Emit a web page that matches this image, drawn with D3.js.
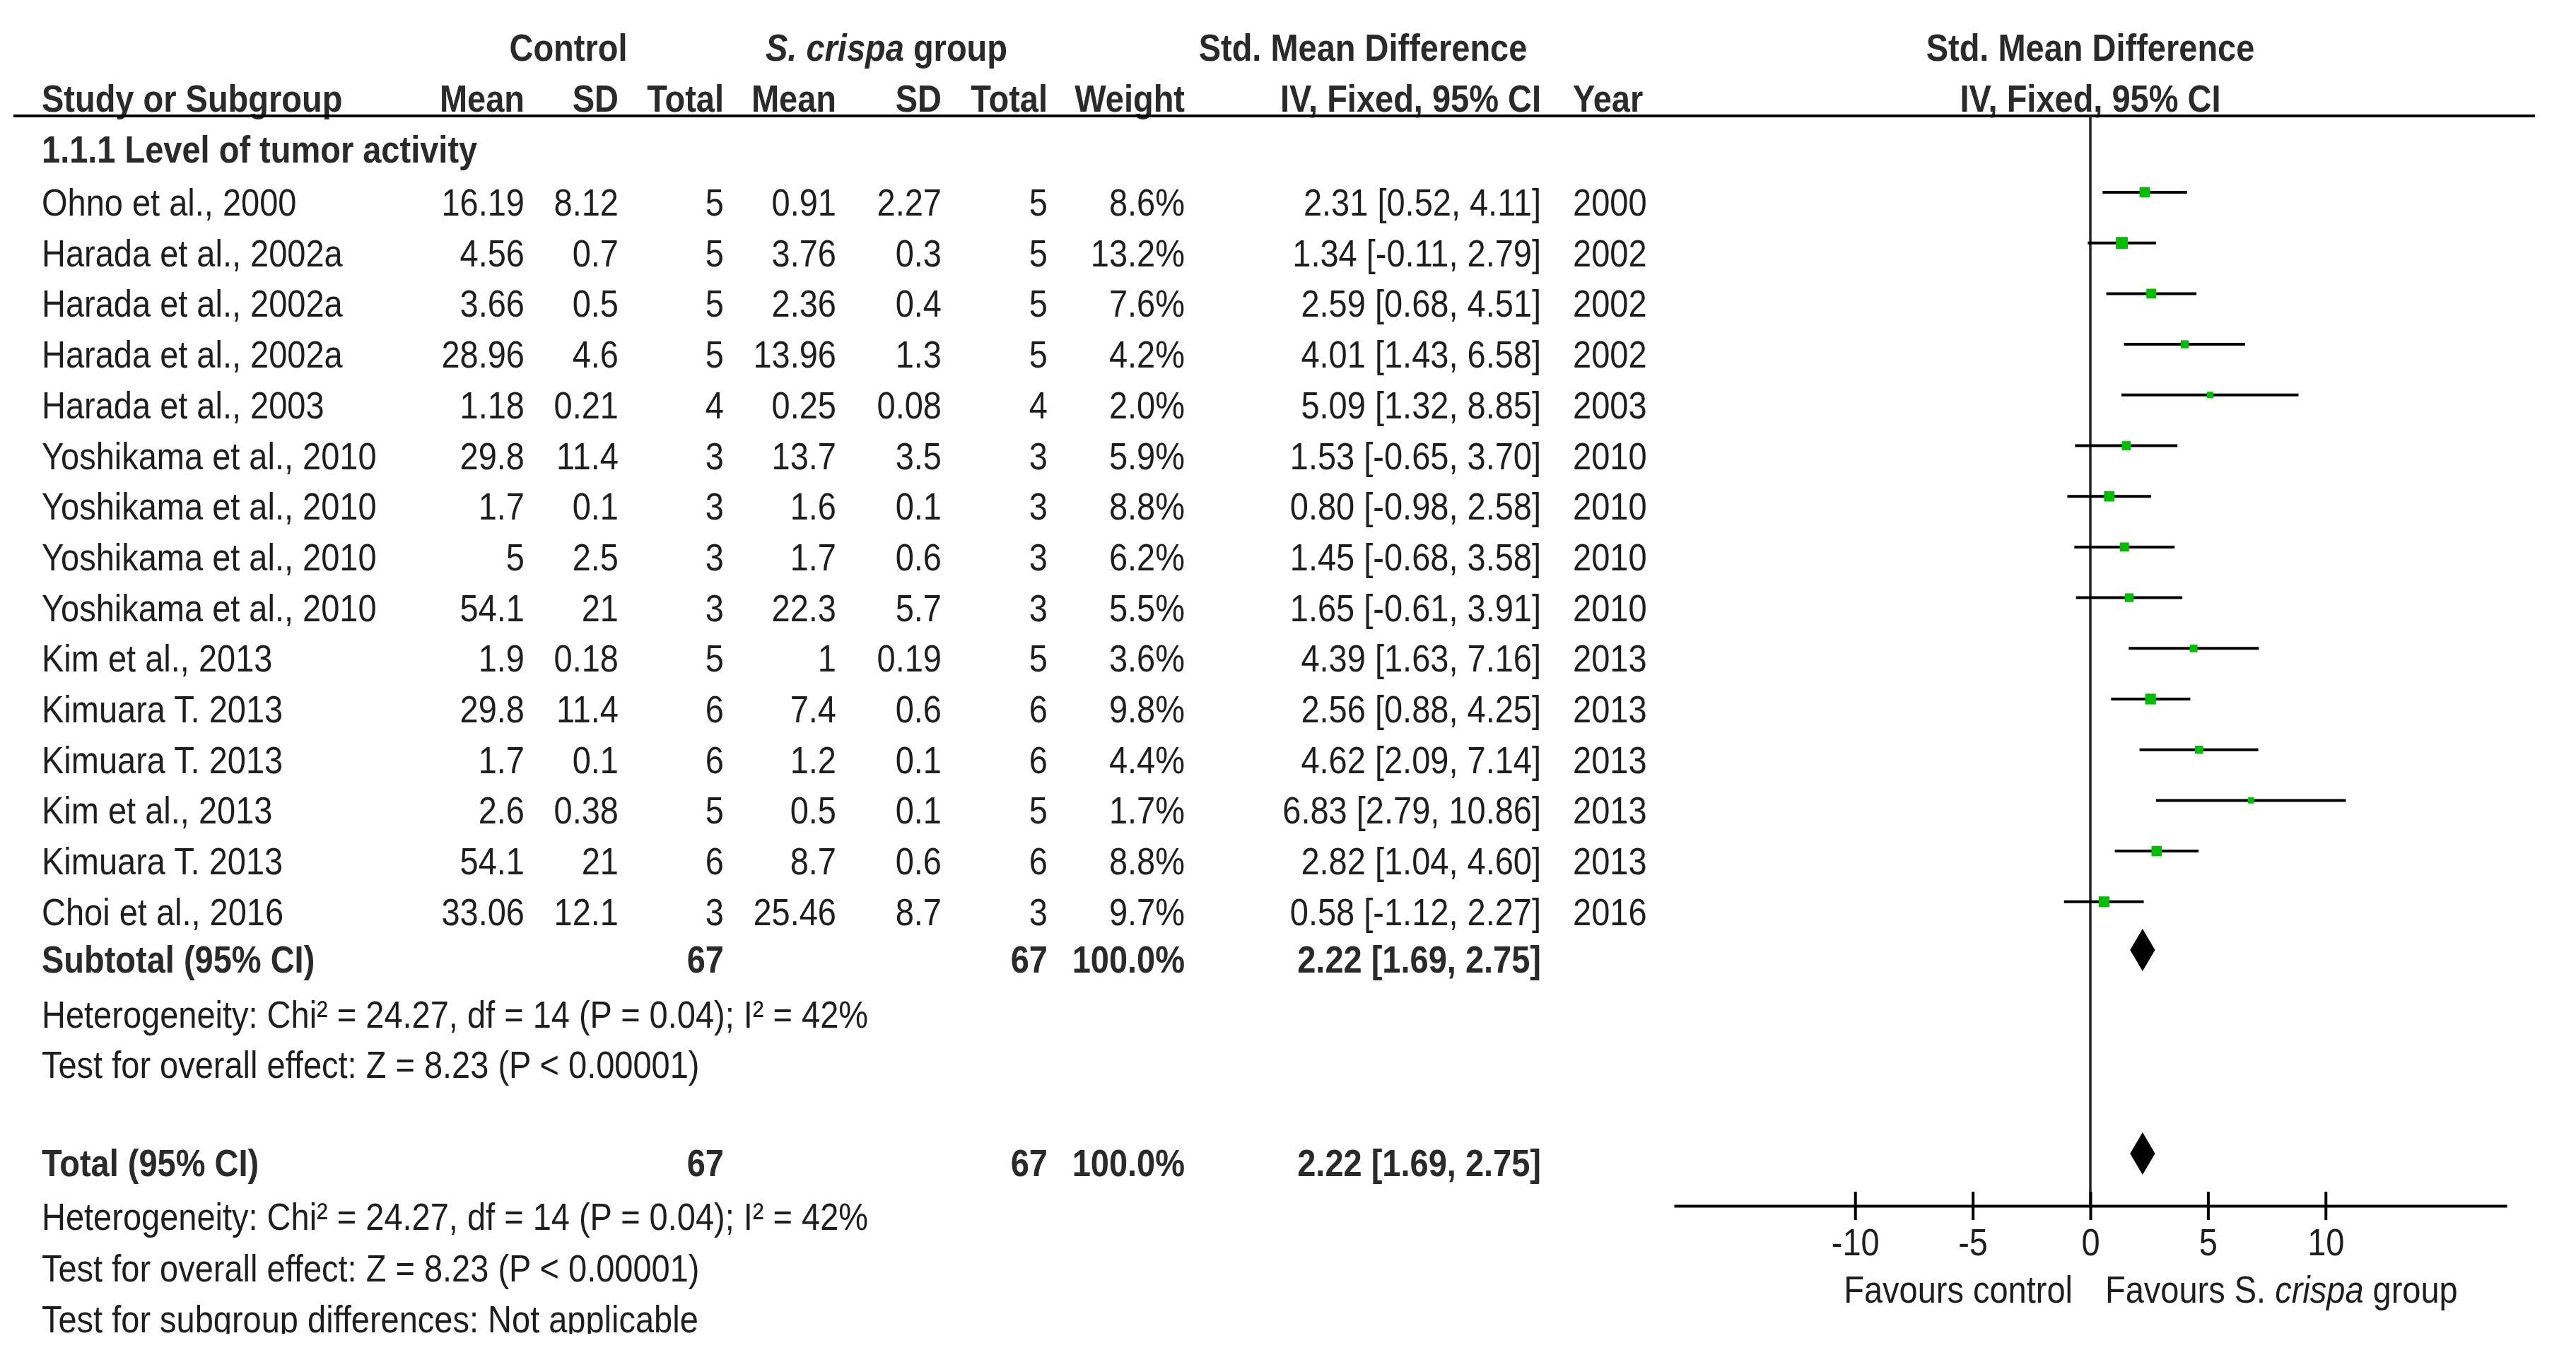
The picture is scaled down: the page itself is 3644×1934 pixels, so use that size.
<!DOCTYPE html>
<html>
<head>
<meta charset="utf-8">
<script src="https://cdn.jsdelivr.net/npm/d3@7"></script>
<style>
body { margin: 0; background: #fff; }
text { font-family: "Liberation Sans", Arial, sans-serif; font-size: 54px; fill: #1e1e1e; }
.b { font-weight: bold; fill: #2a2a2a; }
</style>
</head>
<body>
<svg id="chart" width="3644" height="1934"></svg>
<script>
// forest plot: S. crispa vs control, level of tumor activity

var studies = ["Ohno et al., 2000", "Harada et al., 2002a", "Harada et al., 2002a", "Harada et al., 2002a",
	"Harada et al., 2003", "Yoshikama et al., 2010", "Yoshikama et al., 2010", "Yoshikama et al., 2010",
	"Yoshikama et al., 2010", "Kim et al., 2013", "Kimuara T. 2013", "Kimuara T. 2013",
	"Kim et al., 2013", "Kimuara T. 2013", "Choi et al., 2016"];
var ctrlMean = [16.19, 4.56, 3.66, 28.96, 1.18, 29.8, 1.7, 5, 54.1, 1.9, 29.8, 1.7, 2.6, 54.1, 33.06];
var ctrlSD   = [8.12, 0.7, 0.5, 4.6, 0.21, 11.4, 0.1, 2.5, 21, 0.18, 11.4, 0.1, 0.38, 21, 12.1];
var ctrlN    = [5, 5, 5, 5, 4, 3, 3, 3, 3, 5, 6, 6, 5, 6, 3];
var expMean  = [0.91, 3.76, 2.36, 13.96, 0.25, 13.7, 1.6, 1.7, 22.3, 1, 7.4, 1.2, 0.5, 8.7, 25.46];
var expSD    = [2.27, 0.3, 0.4, 1.3, 0.08, 3.5, 0.1, 0.6, 5.7, 0.19, 0.6, 0.1, 0.1, 0.6, 8.7];
var expN     = [5, 5, 5, 5, 4, 3, 3, 3, 3, 5, 6, 6, 5, 6, 3];
var weight   = [8.6, 13.2, 7.6, 4.2, 2.0, 5.9, 8.8, 6.2, 5.5, 3.6, 9.8, 4.4, 1.7, 8.8, 9.7];
var smd      = [2.31, 1.34, 2.59, 4.01, 5.09, 1.53, 0.80, 1.45, 1.65, 4.39, 2.56, 4.62, 6.83, 2.82, 0.58];
var ciLow    = [0.52, -0.11, 0.68, 1.43, 1.32, -0.65, -0.98, -0.68, -0.61, 1.63, 0.88, 2.09, 2.79, 1.04, -1.12];
var ciHigh   = [4.11, 2.79, 4.51, 6.58, 8.85, 3.70, 2.58, 3.58, 3.91, 7.16, 4.25, 7.14, 10.86, 4.60, 2.27];
var years    = [2000, 2002, 2002, 2002, 2003, 2010, 2010, 2010, 2010, 2013, 2013, 2013, 2013, 2013, 2016];

var pooled = [2.22, 1.69, 2.75];	// SMD, low, high
var heterogeneity = "Heterogeneity: Chi\u00b2 = 24.27, df = 14 (P = 0.04); I\u00b2 = 42%";
var overall = "Test for overall effect: Z = 8.23 (P < 0.00001)";
var subgroupTest = "Test for subgroup differences: Not applicable";
var tickValues = [-10, -5, 0, 5, 10];

var W = 3644, H = 1934, SX = 0.87;
var svg = d3.select("#chart");

var x = d3.scaleLinear().domain([-17.7, 17.7]).range([2368, 3546]);
var rowY = d3.scaleLinear().domain([0, 1]).range([305, 376.7]);
var boxSize = d3.scaleSqrt().domain([0, d3.max(weight)]).range([3.9, 17]);

// column anchors (right aligned unless noted)
var col = { study: 59, cMean: 742, cSD: 875, cN: 1024, eMean: 1183, eSD: 1332, eN: 1482, wt: 1676, ci: 2180, year: 2225 };

function txt(g, px, py, s, anchor, bold) {
	return g.append("text")
		.attr("transform", "translate(" + px + "," + py + ") scale(" + SX + ",1)")
		.attr("text-anchor", anchor || "start")
		.attr("class", bold ? "b" : null)
		.text(s);
}
function fmt(v) { return v.toFixed(2); }
function ciText(m, lo, hi) { return fmt(m) + " [" + fmt(lo) + ", " + fmt(hi) + "]"; }

var tbl = svg.append("g");

// headers
txt(tbl, 804, 86, "Control", "middle", true);
var hs = txt(tbl, 1254, 86, "", "middle", true);
hs.append("tspan").style("font-style", "italic").text("S. crispa");
hs.append("tspan").text(" group");
txt(tbl, 1928, 86, "Std. Mean Difference", "middle", true);
txt(tbl, x(0), 86, "Std. Mean Difference", "middle", true);

txt(tbl, col.study, 158, "Study or Subgroup", "start", true);
txt(tbl, col.cMean, 158, "Mean", "end", true);
txt(tbl, col.cSD, 158, "SD", "end", true);
txt(tbl, col.cN, 158, "Total", "end", true);
txt(tbl, col.eMean, 158, "Mean", "end", true);
txt(tbl, col.eSD, 158, "SD", "end", true);
txt(tbl, col.eN, 158, "Total", "end", true);
txt(tbl, col.wt, 158, "Weight", "end", true);
txt(tbl, col.ci, 158, "IV, Fixed, 95% CI", "end", true);
txt(tbl, col.year, 158, "Year", "start", true);
txt(tbl, x(0), 158, "IV, Fixed, 95% CI", "middle", true);

svg.append("line").attr("x1", 19).attr("x2", 3586).attr("y1", 164).attr("y2", 164)
	.attr("stroke", "#000").attr("stroke-width", 4);

txt(tbl, col.study, 230, "1.1.1 Level of tumor activity", "start", true);

// study rows
studies.forEach(function(s, i) {
	var y = rowY(i);
	txt(tbl, col.study, y, s, "start");
	txt(tbl, col.cMean, y, String(ctrlMean[i]), "end");
	txt(tbl, col.cSD, y, String(ctrlSD[i]), "end");
	txt(tbl, col.cN, y, String(ctrlN[i]), "end");
	txt(tbl, col.eMean, y, String(expMean[i]), "end");
	txt(tbl, col.eSD, y, String(expSD[i]), "end");
	txt(tbl, col.eN, y, String(expN[i]), "end");
	txt(tbl, col.wt, y, weight[i].toFixed(1) + "%", "end");
	txt(tbl, col.ci, y, ciText(smd[i], ciLow[i], ciHigh[i]), "end");
	txt(tbl, col.year, y, String(years[i]), "start");
});

// subtotal / total blocks
var totalRows = [
	{ label: "Subtotal (95% CI)", y: 1376, het: 1454, test: 1525 },
	{ label: "Total (95% CI)", y: 1664, het: 1740, test: 1813 }
];
totalRows.forEach(function(r) {
	txt(tbl, col.study, r.y, r.label, "start", true);
	txt(tbl, col.cN, r.y, String(d3.sum(ctrlN)), "end", true);
	txt(tbl, col.eN, r.y, String(d3.sum(expN)), "end", true);
	txt(tbl, col.wt, r.y, d3.sum(weight).toFixed(1) + "%", "end", true);
	txt(tbl, col.ci, r.y, ciText(pooled[0], pooled[1], pooled[2]), "end", true);
	txt(tbl, col.study, r.het, heterogeneity, "start");
	txt(tbl, col.study, r.test, overall, "start");
});

// last line is cut at the bottom in the source
svg.append("clipPath").attr("id", "cut").append("rect")
	.attr("x", 0).attr("y", 0).attr("width", W).attr("height", 1887);
var last = svg.append("g").attr("clip-path", "url(#cut)");
txt(last, col.study, 1885, subgroupTest, "start");

// plot
var plot = svg.append("g");
var axisY = 1706, markOff = 33;

plot.append("line").attr("x1", x(0)).attr("x2", x(0)).attr("y1", 164).attr("y2", axisY)
	.attr("stroke", "#222").attr("stroke-width", 3.5);

plot.selectAll(".ci").data(studies).enter().append("line")
	.attr("class", "ci")
	.attr("x1", function(d, i) { return x(ciLow[i]); })
	.attr("x2", function(d, i) { return x(ciHigh[i]); })
	.attr("y1", function(d, i) { return rowY(i) - markOff; })
	.attr("y2", function(d, i) { return rowY(i) - markOff; })
	.attr("stroke", "#000").attr("stroke-width", 4);

plot.selectAll(".box").data(studies).enter().append("rect")
	.attr("class", "box")
	.attr("x", function(d, i) { return x(smd[i]) - boxSize(weight[i]) / 2; })
	.attr("y", function(d, i) { return rowY(i) - markOff - boxSize(weight[i]) / 2; })
	.attr("width", function(d, i) { return boxSize(weight[i]); })
	.attr("height", function(d, i) { return boxSize(weight[i]); })
	.attr("fill", "#00bf00");

plot.selectAll(".diamond").data(totalRows).enter().append("path")
	.attr("class", "diamond")
	.attr("d", function(r) {
		var c = r.y - 32;
		return "M" + x(pooled[1]) + "," + c + "L" + x(pooled[0]) + "," + (c - 30) +
			"L" + x(pooled[2]) + "," + c + "L" + x(pooled[0]) + "," + (c + 30) + "Z";
	})
	.attr("fill", "#000");

var axis = plot.append("g").attr("transform", "translate(0," + axisY + ")")
	.call(d3.axisBottom(x).tickValues(tickValues).tickSizeOuter(0).tickSizeInner(20)
		.tickFormat(function(d) { return String(d); }));
axis.select(".domain").attr("stroke", "#000").attr("stroke-width", 4);
axis.selectAll(".tick line").attr("y1", -20).attr("stroke", "#000").attr("stroke-width", 4);
axis.selectAll(".tick text").attr("y", 70).attr("dy", null)
	.attr("transform", "scale(" + SX + ",1)");

txt(plot, x(0) - 25, 1843, "Favours control", "end");
var fv = txt(plot, x(0) + 21, 1843, "Favours S. ", "start");
fv.append("tspan").style("font-style", "italic").text("crispa");
fv.append("tspan").text(" group");
</script>
</body>
</html>
